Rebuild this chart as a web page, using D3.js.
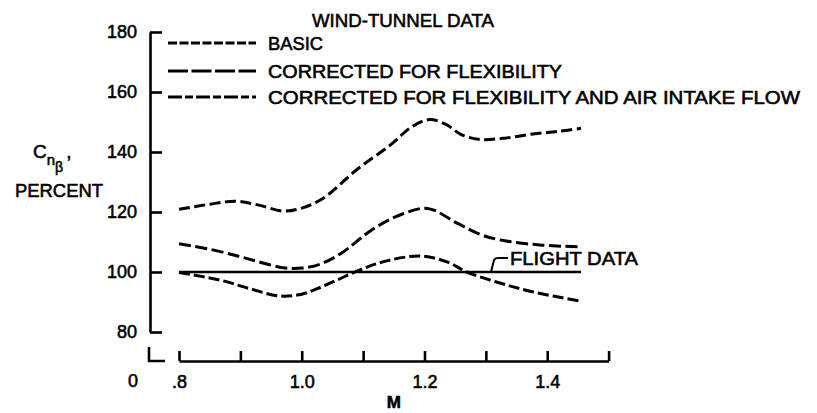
<!DOCTYPE html>
<html>
<head>
<meta charset="utf-8">
<script src="https://cdn.jsdelivr.net/npm/d3@7"></script>
<style>
  html, body { margin: 0; padding: 0; background: #fff; }
  svg { display: block; }
  text { font-family: "Liberation Sans", Arial, sans-serif; fill: #000; stroke: #000; stroke-width: 0.55px; }
</style>
</head>
<body>
<svg id="chart" width="817" height="413"></svg>
<script>
// ---- data ----
const seriesNames = ["BASIC", "CORRECTED FOR FLEXIBILITY", "CORRECTED FOR FLEXIBILITY AND AIR INTAKE FLOW"];

const basicM = [0.80, 0.85, 0.893, 0.93, 0.97, 1.00, 1.035, 1.089, 1.144, 1.18, 1.208, 1.235, 1.26, 1.29, 1.33, 1.377, 1.42, 1.455];
const basicV = [120.9, 122.6, 123.6, 122.3, 120.3, 121.3, 124.6, 134.0, 142.3, 148.5, 150.8, 149.2, 145.8, 144.2, 144.6, 146.0, 146.9, 147.9];

const flexM = [0.80, 0.85, 0.894, 0.93, 0.97, 1.00, 1.03, 1.064, 1.114, 1.16, 1.205, 1.253, 1.29, 1.323, 1.388, 1.455];
const flexV = [109.4, 107.6, 105.4, 103.4, 101.4, 101.3, 102.6, 106.2, 114.0, 119.0, 121.2, 116.3, 112.6, 110.7, 109.0, 108.4];

const flexAirM = [0.80, 0.867, 0.916, 0.964, 1.00, 1.033, 1.095, 1.14, 1.195, 1.239, 1.269, 1.32, 1.376, 1.455];
const flexAirV = [99.8, 97.3, 94.4, 92.0, 92.6, 95.1, 100.7, 103.8, 105.3, 103.2, 100.0, 96.5, 93.4, 90.3];

const flightM = [0.80, 1.455];
const flightV = [100, 100];

const yTickValues = [80, 100, 120, 140, 160, 180];
const yTickLabels = ["80", "100", "120", "140", "160", "180"];
const xTickValues = [0.8, 0.9, 1.0, 1.1, 1.2, 1.3, 1.4, 1.5];
const xTickLabels = [".8", "", "1.0", "", "1.2", "", "1.4", ""];

// ---- drawing ----
const svg = d3.select("#chart");
const x = d3.scaleLinear().domain([0.8, 1.5]).range([179, 608.6]);
const y = d3.scaleLinear().domain([80, 180]).range([332, 32]);

const axisStroke = 2.6;

// Y axis
const yAxis = d3.axisLeft(y)
  .tickValues(yTickValues)
  .tickFormat((d, i) => yTickLabels[i])
  .tickSizeInner(-12)
  .tickSizeOuter(0)
  .tickPadding(13);
const gy = svg.append("g").attr("transform", "translate(150,0)").call(yAxis);
gy.select(".domain").attr("stroke", "#000").attr("stroke-width", axisStroke);
gy.selectAll(".tick line").attr("stroke", "#000").attr("stroke-width", axisStroke);
gy.selectAll(".tick text").attr("font-size", 18).attr("font-family", "Liberation Sans, Arial, sans-serif").attr("fill", "#000");

// X axis
const xAxis = d3.axisBottom(x)
  .tickValues(xTickValues)
  .tickFormat((d, i) => xTickLabels[i])
  .tickSizeInner(-10)
  .tickSizeOuter(0)
  .tickPadding(14);
const gx = svg.append("g").attr("transform", "translate(0,361)").call(xAxis);
gx.select(".domain").attr("stroke", "#000").attr("stroke-width", axisStroke);
gx.selectAll(".tick line").attr("stroke", "#000").attr("stroke-width", axisStroke);
gx.selectAll(".tick text").attr("font-size", 18).attr("font-family", "Liberation Sans, Arial, sans-serif").attr("fill", "#000");

// origin corner mark and "0"
svg.append("path")
  .attr("d", "M149,347 V361 H165")
  .attr("fill", "none").attr("stroke", "#000").attr("stroke-width", axisStroke);
svg.append("text").attr("x", 133).attr("y", 387).attr("text-anchor", "middle")
  .attr("font-size", 18).text("0");

// axis titles
svg.append("text").attr("x", (x(0.8) + x(1.5)) / 2).attr("y", 408).attr("text-anchor", "middle")
  .attr("font-size", 17).attr("font-weight", "bold").text("M");

const yl = svg.append("text").attr("x", 33).attr("y", 158).attr("font-size", 19);
yl.append("tspan").text("C");
yl.append("tspan").attr("font-size", 15).attr("dy", 7).text("n");
yl.append("tspan").attr("font-size", 14).attr("dy", 7).text("\u03B2");
yl.append("tspan").attr("dy", -14).attr("dx", 3).text(",");
svg.append("text").attr("x", 15).attr("y", 197).attr("font-size", 18)
  .attr("textLength", 88).attr("lengthAdjust", "spacingAndGlyphs").text("PERCENT");

// curves
const line = d3.line().x(d => x(d[0])).y(d => y(d[1])).curve(d3.curveCatmullRom.alpha(0.5));
const zip = (a, b) => a.map((m, i) => [m, b[i]]);

const curves = [
  { data: zip(basicM, basicV), dash: "11,4.5" },
  { data: zip(flexM, flexV), dash: "12,4.5" },
  { data: zip(flexAirM, flexAirV), dash: "11,4" }
];
curves.forEach(c => {
  svg.append("path").attr("d", line(c.data))
    .attr("fill", "none").attr("stroke", "#000").attr("stroke-width", 3)
    .attr("stroke-dasharray", c.dash);
});
svg.append("path").attr("d", line(zip(flightM, flightV)))
  .attr("fill", "none").attr("stroke", "#000").attr("stroke-width", 2.6);

// flight data label with leader
svg.append("path").attr("d", "M491,272 L494,260 Q495,258 498,258 L508,258")
  .attr("fill", "none").attr("stroke", "#000").attr("stroke-width", 2);
svg.append("text").attr("x", 510).attr("y", 265).attr("font-size", 18)
  .attr("textLength", 128).attr("lengthAdjust", "spacingAndGlyphs").text("FLIGHT DATA");

// legend
svg.append("text").attr("x", 312).attr("y", 27).attr("font-size", 18)
  .attr("textLength", 182).attr("lengthAdjust", "spacingAndGlyphs").text("WIND-TUNNEL DATA");
const legDash = ["9,2.5", "20,3.5", "14,3,8,3"];
const legY = [43, 71, 97];
const legTextLen = [55, 294, 532];
seriesNames.forEach((name, i) => {
  svg.append("line").attr("x1", 168).attr("x2", 256).attr("y1", legY[i]).attr("y2", legY[i])
    .attr("stroke", "#000").attr("stroke-width", 3).attr("stroke-dasharray", legDash[i]);
  svg.append("text").attr("x", 268).attr("y", legY[i] + 7).attr("font-size", 18)
    .attr("textLength", legTextLen[i]).attr("lengthAdjust", "spacingAndGlyphs").text(name);
});
</script>
</body>
</html>
